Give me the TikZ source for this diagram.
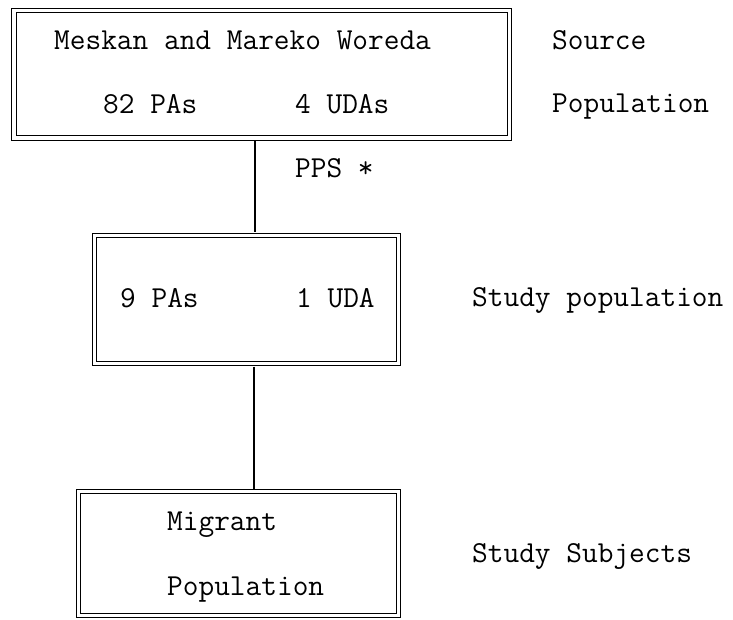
\documentclass[tikz,border=0pt]{standalone}
\usepackage{fontspec}
\begin{document}
\begin{tikzpicture}[x=1pt,y=-1pt,
  dbox/.style={draw, double, double distance=3.5pt, line width=1.2pt, inner sep=0pt},
  lbl/.style={anchor=base west, inner sep=0pt, font=\ttfamily\fontsize{30.48}{36}\selectfont},
  conn/.style={line width=1.2pt, shorten <=2.4pt, shorten >=2.4pt}]
\useasboundingbox (0,0) rectangle (733,620);
\node[dbox, minimum width=495.5pt, minimum height=127.5pt] (topbox) at (261.75,74.25) {};
\node[dbox, minimum width=304pt, minimum height=128pt] (midbox) at (246.5,299.5) {};
\node[dbox, minimum width=320pt, minimum height=124pt] (botbox) at (238.5,553.5) {};
\coordinate (ax1) at (255,0);
\coordinate (ax2) at (254,0);
\draw[conn] (topbox.south -| ax1) -- (midbox.north -| ax1);
\draw[conn] (midbox.south -| ax2) -- (botbox.north -| ax2);
\node[lbl] (t1) at (54,50) {Meskan and Mareko Woreda};
\node[lbl] (t2) at (103,114) {82 PAs};
\node[lbl] (t3) at (295,114) {4 UDAs};
\node[lbl] (s1) at (552,50) {Source};
\node[lbl] (s2) at (552,113) {Population};
\node[lbl] (pps) at (295,178) {PPS *};
\node[lbl] (m1) at (120,307) {9 PAs};
\node[lbl] (m2) at (296,307) {1 UDA};
\node[lbl] (s3) at (472,306) {Study population};
\node[lbl] (b1) at (167,530) {Migrant};
\node[lbl] (b2) at (167,595) {Population};
\node[lbl] (s4) at (472,562) {Study Subjects};
\end{tikzpicture}
\end{document}
